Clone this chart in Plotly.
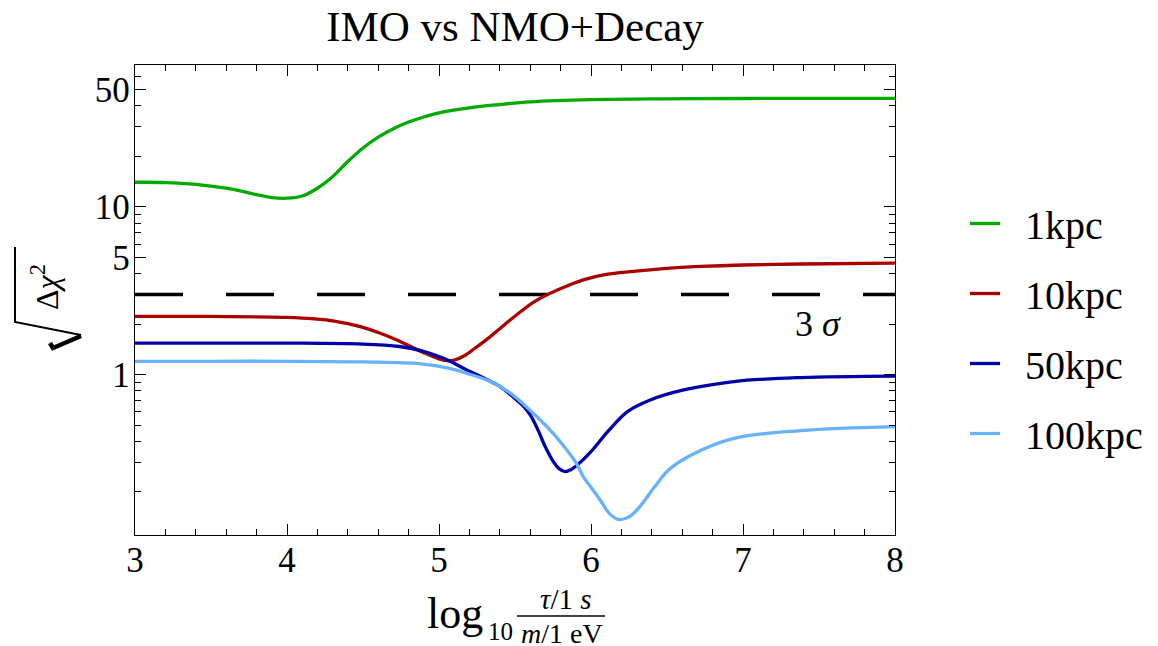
import plotly.graph_objects as go

# ---------------- data ----------------
x_1kpc = [3.0, 3.2, 3.4, 3.6, 3.7, 3.8, 3.9, 4.0, 4.1, 4.2, 4.3, 4.4, 4.5, 4.6, 4.7, 4.8, 4.9, 5.0, 5.2, 5.4, 5.6, 6.0, 6.5, 7.0, 8.0]
y_1kpc = [14.0, 13.95, 13.6, 12.9, 12.4, 11.8, 11.35, 11.25, 11.6, 12.9, 15.1, 18.6, 22.4, 26.0, 29.2, 32.0, 34.3, 36.3, 38.9, 40.7, 42.2, 43.5, 44.0, 44.2, 44.3]

x_10kpc = [3.0, 3.5, 3.9, 4.0, 4.1, 4.2, 4.3, 4.4, 4.5, 4.6, 4.7, 4.8, 4.9, 5.0, 5.05, 5.1, 5.17, 5.23, 5.34, 5.47, 5.62, 5.71, 5.85, 5.95, 6.1, 6.28, 6.5, 6.72, 7.0, 7.38, 8.0]
y_10kpc = [2.22, 2.22, 2.20, 2.19, 2.17, 2.14, 2.09, 2.01, 1.91, 1.78, 1.64, 1.49, 1.35, 1.24, 1.21, 1.22, 1.30, 1.42, 1.69, 2.12, 2.69, 2.99, 3.40, 3.67, 3.95, 4.12, 4.30, 4.41, 4.50, 4.56, 4.62]

x_50kpc = [3.0, 3.5, 4.0, 4.5, 4.74, 4.88, 5.03, 5.18, 5.34, 5.40, 5.50, 5.55, 5.60, 5.65, 5.70, 5.75, 5.79, 5.83, 5.87, 5.91, 6.0, 6.11, 6.24, 6.39, 6.61, 6.94, 7.38, 8.0]
y_50kpc = [1.54, 1.54, 1.54, 1.52, 1.47, 1.39, 1.25, 1.07, 0.91, 0.85, 0.72, 0.655, 0.575, 0.47, 0.37, 0.305, 0.275, 0.264, 0.272, 0.289, 0.347, 0.457, 0.602, 0.706, 0.81, 0.909, 0.96, 0.98]

x_100kpc = [3.0, 3.5, 4.0, 4.5, 4.88, 5.07, 5.18, 5.34, 5.47, 5.62, 5.73, 5.84, 5.90, 5.95, 6.0, 6.06, 6.12, 6.18, 6.25, 6.32, 6.42, 6.51, 6.66, 6.94, 7.38, 8.0]
y_100kpc = [1.20, 1.20, 1.20, 1.19, 1.16, 1.09, 1.02, 0.91, 0.775, 0.588, 0.468, 0.356, 0.30, 0.246, 0.213, 0.179, 0.149, 0.137, 0.142, 0.163, 0.215, 0.27, 0.332, 0.417, 0.464, 0.49]

series_names = ["1kpc", "10kpc", "50kpc", "100kpc"]
series_colors = ["rgb(0,170,0)", "rgb(170,0,0)", "rgb(0,0,170)", "rgb(102,178,255)"]

sigma_level = 3.0
x_range = [3, 8]
x_ticks = [3, 4, 5, 6, 7, 8]
y_ticks = [1, 5, 10, 50]
y_minor = [0.2, 0.3, 0.4, 0.5, 0.6, 0.7, 0.8, 0.9, 2, 3, 4, 6, 7, 8, 9, 20, 30, 40, 60]

# ---------------- figure ----------------
# the page body has an 8px margin, so the figure is 8px smaller on each axis
OFF = 8
W, H = 1150, 638
L, R, T, B = 127, 263, 57, 111
PW, PH = W - L - R, H - T - B


def px(xr):
    """reference-screenshot x pixel -> paper x"""
    return (xr - OFF - L) / PW


def py(yr):
    """reference-screenshot y pixel -> paper y"""
    return (H - B - (yr - OFF)) / PH


FONT = "Liberation Serif"
fig = go.Figure()

# 3 sigma line
fig.add_trace(go.Scatter(x=x_range, y=[sigma_level, sigma_level], mode="lines",
                         line=dict(color="black", width=3.5, dash="48px,43px"),
                         showlegend=False, hoverinfo="skip"))

nbsp = "\u00a0\u00a0"
for xs, ys, nm, col in zip([x_1kpc, x_10kpc, x_50kpc, x_100kpc],
                           [y_1kpc, y_10kpc, y_50kpc, y_100kpc],
                           series_names, series_colors):
    fig.add_trace(go.Scatter(x=xs, y=ys, mode="lines", name=nbsp + nm,
                             line=dict(color=col, width=3.3, shape="spline", smoothing=1.0),
                             legendgroup=nm))

axis_common = dict(showline=True, linecolor="black", linewidth=1.3, mirror="ticks",
                   ticks="inside", ticklen=11, tickwidth=1.3, tickcolor="black",
                   showgrid=False, zeroline=False,
                   tickfont=dict(family=FONT, size=35, color="black"))

fig.update_xaxes(range=x_range, tickmode="array", tickvals=x_ticks,
                 ticktext=[str(v) for v in x_ticks], ticklabelstandoff=-6,
                 minor=dict(ticks="inside", ticklen=6, tickwidth=1.3, tickcolor="black", dtick=0.2,
                            showgrid=False),
                 **axis_common)
fig.update_yaxes(type="log", range=[-0.956, 1.845], tickmode="array", tickvals=y_ticks,
                 ticktext=[str(v) for v in y_ticks], ticklabelstandoff=-3,
                 minor=dict(ticks="inside", ticklen=6, tickwidth=1.3, tickcolor="black",
                            tickmode="array", tickvals=y_minor, showgrid=False),
                 **axis_common)

BAR_Y = 616
annotations = [
    dict(text="3 <i>σ</i>", x=px(818), y=py(324), xref="paper", yref="paper", yanchor="middle",
         xanchor="center", showarrow=False, font=dict(family=FONT, size=36, color="black")),
    # y-axis title
    dict(text="Δ<i>χ</i><sup>2</sup>", x=px(45), y=py(287), xref="paper", yref="paper",
         xanchor="center", yanchor="middle",
         textangle=-90, showarrow=False, font=dict(family=FONT, size=32, color="black")),
    # x-axis title pieces
    dict(text="log", x=px(485), y=py(613), xref="paper", yref="paper", xanchor="right",
         yanchor="middle", showarrow=False, font=dict(family=FONT, size=44, color="black")),
    dict(text="10", x=px(500), y=py(631), xref="paper", yref="paper", xanchor="center",
         yanchor="middle", showarrow=False, font=dict(family=FONT, size=25, color="black")),
    dict(text="<i>τ</i>/1 <i>s</i>", x=px(566), y=py(BAR_Y + 1), xref="paper", yref="paper",
         xanchor="center", yanchor="bottom", showarrow=False,
         font=dict(family=FONT, size=29, color="black")),
    dict(text="<i>m</i>/1 eV", x=px(562), y=py(BAR_Y), xref="paper", yref="paper",
         xanchor="center", yanchor="top", showarrow=False,
         font=dict(family=FONT, size=28, color="black")),
]

shapes = [
    # fraction bar
    dict(type="line", xref="paper", yref="paper", x0=px(517), x1=px(605), y0=py(BAR_Y), y1=py(BAR_Y),
         line=dict(color="black", width=1.6)),
    # radical sign (rotated) for the y-axis title
    dict(type="path", xref="paper", yref="paper",
         path=f"M {px(15)} {py(247)} L {px(15)} {py(322)} L {px(81)} {py(335)}",
         line=dict(color="black", width=2)),
    dict(type="path", xref="paper", yref="paper",
         path=f"M {px(81)} {py(336)} L {px(53)} {py(348)} L {px(50)} {py(343)}",
         line=dict(color="black", width=4.5)),
]

fig.update_layout(
    width=W, height=H,
    margin=dict(l=L, r=R, t=T, b=B, autoexpand=False),
    paper_bgcolor="white", plot_bgcolor="white",
    title=dict(text="IMO vs NMO+Decay", x=px(515), xanchor="center", xref="paper",
               y=1 - (26 - OFF) / H, yanchor="middle", yref="container",
               font=dict(family=FONT, size=43, color="black")),
    legend=dict(x=px(965), y=py(191), xanchor="left", yanchor="top",
                font=dict(family=FONT, size=40, color="black"),
                itemwidth=30, tracegroupgap=15, bgcolor="rgba(0,0,0,0)"),
    annotations=annotations,
    shapes=shapes,
    showlegend=True,
)

fig.write_html("out.html")
